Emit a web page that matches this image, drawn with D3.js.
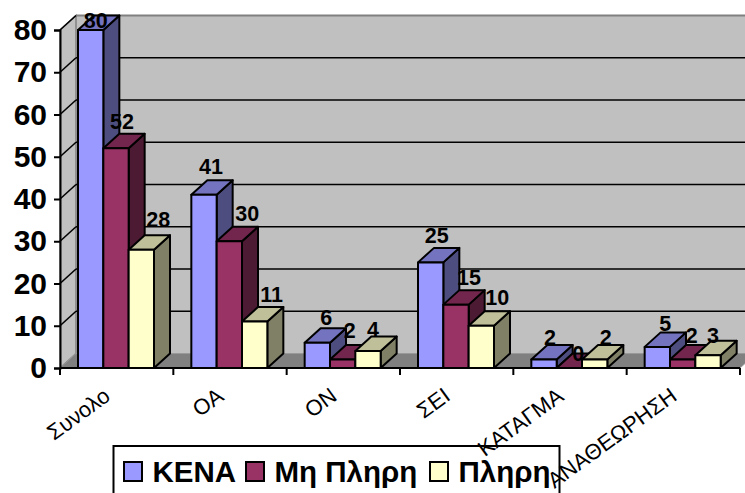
<!DOCTYPE html>
<html><head><meta charset="utf-8">
<script src="https://cdn.jsdelivr.net/npm/d3@7"></script>
<style>html,body{margin:0;padding:0;background:#fff;overflow:hidden}svg{display:block}text{font-family:"Liberation Sans",Arial,sans-serif}</style>
</head><body><svg id="c" width="745" height="493"></svg>
<script>
const categories = ["Συνολο","ΟΑ","ΟΝ","ΣΕΙ","ΚΑΤΑΓΜΑ","ΑΝΑΘΕΩΡΗΣΗ"];
const seriesNames = ["ΚΕΝΑ","Μη Πληρη","Πληρη"];
const kena = [80,41,6,25,2,5];
const miPliri = [52,30,2,15,0,2];
const pliri = [28,11,4,10,2,3];
const yTicks = [0,10,20,30,40,50,60,70,80];
const frontColors = ["#9999FF","#993366","#FFFFCC"];
const topColors = ["#7373BF","#73264D","#BFBF99"];
const sideColors = ["#4D4D80","#4D1A33","#808066"];

const values = [kena, miPliri, pliri];
// hand-placed data-label nudges, as in the original chart [series][category]
const labelDx = [[5,7,9,6,6,8],[6,18,7,13,9,9],[17,17,5,16,11,5]];
const labelDy = [[-2,-21,-18,-19,-15,-16],[-19,-20,-22,-20,-7,-17],[-23,-20,-14,-21,-15,-12]];

const svg = d3.select("#c");
const dx = 16, dy = -14.5, barDy = -14.5;
const x = d3.scaleBand().domain(categories).range([60,740]);
const s = d3.scaleBand().domain(seriesNames).range([18,94]);
const y = d3.scaleLinear().domain([0,80]).range([368,30]);
const pts = a => a.map(p=>p.join(",")).join(" ");
const x0=60,x1=740,yb=y(0),yt=y(80);

// walls
svg.append("polygon").attr("points",pts([[x0+dx,yt+dy],[x1+dx,yt+dy],[x1+dx,yb+dy],[x0+dx,yb+dy]])).attr("fill","#C0C0C0");
svg.append("polygon").attr("points",pts([[x0,yt],[x0+dx,yt+dy],[x0+dx,yb+dy],[x0,yb]])).attr("fill","#C0C0C0").attr("stroke","#808080").attr("stroke-width",1.5);
svg.append("line").attr("x1",x0+dx).attr("x2",x1+dx).attr("y1",yt+dy).attr("y2",yt+dy).attr("stroke","#808080").attr("stroke-width",2);
// grid
yTicks.filter(t=>t>0&&t<80).forEach(t=>{
  svg.append("line").attr("x1",x0+dx).attr("x2",x1+dx).attr("y1",y(t)+dy).attr("y2",y(t)+dy).attr("stroke","#000").attr("stroke-width",1.6);
});
yTicks.filter(t=>t>0).forEach(t=>{
  svg.append("line").attr("x1",x0).attr("x2",x0+dx).attr("y1",y(t)).attr("y2",y(t)+dy).attr("stroke","#000").attr("stroke-width",1.6);
});
// floor
svg.append("polygon").attr("points",pts([[x0,yb],[x0+dx,yb+dy],[x1+dx,yb+dy],[x1,yb]])).attr("fill","#808080").attr("stroke","#999").attr("stroke-width",1);

// bars
const labels=[];
categories.forEach((c,i)=>{
  seriesNames.forEach((n,j)=>{
    const v=values[j][i];
    const l=x(c)+s(n), r=l+s.bandwidth(), t=y(v);
    const g=svg.append("g").attr("stroke","#000").attr("stroke-width",2).attr("stroke-linejoin","round");
    g.append("polygon").attr("points",pts([[r,t],[r+dx,t+barDy],[r+dx,yb+barDy],[r,yb]])).attr("fill",sideColors[j]);
    g.append("polygon").attr("points",pts([[l,t],[l+dx,t+barDy],[r+dx,t+barDy],[r,t]])).attr("fill",topColors[j]);
    g.append("rect").attr("x",l).attr("y",t).attr("width",r-l).attr("height",yb-t).attr("fill",frontColors[j]);
    labels.push({v,x:(l+r)/2+labelDx[j][i],y:t+labelDy[j][i]});
  });
});
// axes
const yAxis=d3.axisLeft(y).tickValues(yTicks).tickSize(6).tickPadding(7);
const ya=svg.append("g").attr("transform",`translate(${x0},0)`).call(yAxis);
ya.selectAll("path,line").attr("stroke","#000").attr("stroke-width",2);
ya.selectAll("text").attr("font-size",30).attr("font-weight","bold").attr("fill","#000").style("font-family",'"Liberation Sans"');
const xa=svg.append("g").attr("transform",`translate(0,${yb})`);
xa.append("line").attr("x1",x0).attr("x2",x1).attr("stroke","#000").attr("stroke-width",2);
[...categories.map(c=>x(c)),x1].forEach(p=>xa.append("line").attr("x1",p).attr("x2",p).attr("y1",0).attr("y2",7).attr("stroke","#000").attr("stroke-width",2));

// value labels
svg.selectAll(".vl").data(labels).join("text").attr("class","vl")
  .attr("x",d=>d.x).attr("y",d=>d.y).attr("text-anchor","middle")
  .attr("font-size",21.5).attr("font-weight","bold").attr("fill","#000").text(d=>d.v);

// legend
svg.append("rect").attr("x",113.5).attr("y",446).attr("width",446).attr("height",60).attr("fill","#fff").attr("stroke","#000").attr("stroke-width",2);
const legX=[124,246,430];
seriesNames.forEach((n,j)=>{
  svg.append("rect").attr("x",legX[j]).attr("y",462).attr("width",18).attr("height",19).attr("fill",frontColors[j]).attr("stroke","#000").attr("stroke-width",2);
  svg.append("text").attr("x",legX[j]+28.5).attr("y",482).attr("font-size",29.5).attr("font-weight","bold").attr("fill","#000").text(n);
});

// category labels
categories.forEach(c=>{
  const p=x(c)+x.bandwidth()/2;
  svg.append("text").attr("transform",`translate(${p-5},399) rotate(-36)`).attr("text-anchor","end")
    .attr("font-size",22).attr("fill","#000").text(c);
});
</script></body></html>
